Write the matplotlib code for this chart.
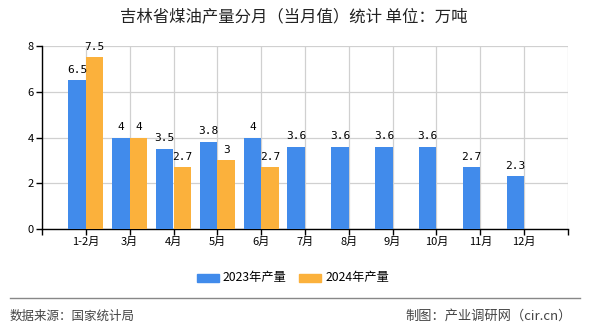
import matplotlib
matplotlib.use("Agg")
import matplotlib.pyplot as plt
import numpy as np
from matplotlib.patches import Rectangle
from matplotlib.lines import Line2D

plt.rcParams['font.family'] = ['Noto Sans CJK SC', 'DejaVu Sans']

categories = ["1-2月", "3月", "4月", "5月", "6月", "7月", "8月", "9月", "10月", "11月", "12月"]
values_2023 = [6.5, 4, 3.5, 3.8, 4, 3.6, 3.6, 3.6, 3.6, 2.7, 2.3]
values_2024 = [7.5, 4, 2.7, 3, 2.7]
label_2023 = ["6.5", "4", "3.5", "3.8", "4", "3.6", "3.6", "3.6", "3.6", "2.7", "2.3"]
label_2024 = ["7.5", "4", "2.7", "3", "2.7"]
series_names = ["2023年产量", "2024年产量"]
title = "吉林省煤油产量分月（当月值）统计 单位：万吨"
source = "数据来源：国家统计局"
credit = "制图：产业调研网（cir.cn）"

c23 = "#418BEB"
c24 = "#FBB13C"

W, H = 590, 330
fig = plt.figure(figsize=(W / 100, H / 100), dpi=100)
ax = fig.add_axes([42 / W, 1 - 229 / H, (568 - 42) / W, (229 - 46) / H])

x = np.arange(len(categories))
bw = 0.4
ax.bar(x[:len(values_2023)] - bw / 2, values_2023, width=bw, color=c23, zorder=3)
ax.bar(x[:len(values_2024)] + bw / 2, values_2024, width=bw, color=c24, zorder=3)

mono = ['DejaVu Sans Mono']
for xi, v, t in zip(x, values_2023, label_2023):
    ax.text(xi - bw / 2, v + 0.25, t, ha='center', va='bottom', fontsize=8, family=mono, zorder=4)
for xi, v, t in zip(x, values_2024, label_2024):
    ax.text(xi + bw / 2, v + 0.25, t, ha='center', va='bottom', fontsize=8, family=mono, zorder=4)

ax.set_xlim(-1, 11)
ax.set_ylim(0, 8)
ax.set_yticks([0, 2, 4, 6, 8])
ax.set_xticks(np.arange(-1, 12))
ax.set_xticklabels([""] + categories + [""])
ax.tick_params(axis='both', labelsize=8, length=4, width=1, color='black', direction='out', pad=2)
ax.grid(True, color='#d0d0d0', linewidth=0.9, zorder=0)
for s in ['top', 'right']:
    ax.spines[s].set_visible(False)
ax.spines['left'].set_color('black')
ax.spines['bottom'].set_color('black')
ax.spines['left'].set_linewidth(1)
ax.spines['bottom'].set_linewidth(1)
ax.set_axisbelow(True)

fig.text(294 / W, 1 - 17 / H, title, ha='center', va='center', fontsize=11.8, color='#222222')

# legend
ly = 1 - 278 / H
fig.patches.append(Rectangle((197 / W, ly - 4 / H), 22 / W, 8 / H, transform=fig.transFigure, color=c23))
fig.text(223 / W, ly, series_names[0], ha='left', va='center', fontsize=8.8)
fig.patches.append(Rectangle((299 / W, ly - 4 / H), 22 / W, 8 / H, transform=fig.transFigure, color=c24))
fig.text(326 / W, ly, series_names[1], ha='left', va='center', fontsize=8.8)

fig.lines.append(Line2D([10 / W, 580 / W], [1 - 298 / H, 1 - 298 / H], transform=fig.transFigure,
                        color='#888888', linewidth=1))
fig.text(10 / W, 1 - 316 / H, source, ha='left', va='center', fontsize=9, color='#444444')
fig.text(572 / W, 1 - 316 / H, credit, ha='right', va='center', fontsize=9.5, color='#444444')

fig.savefig("out.png", dpi=100)
